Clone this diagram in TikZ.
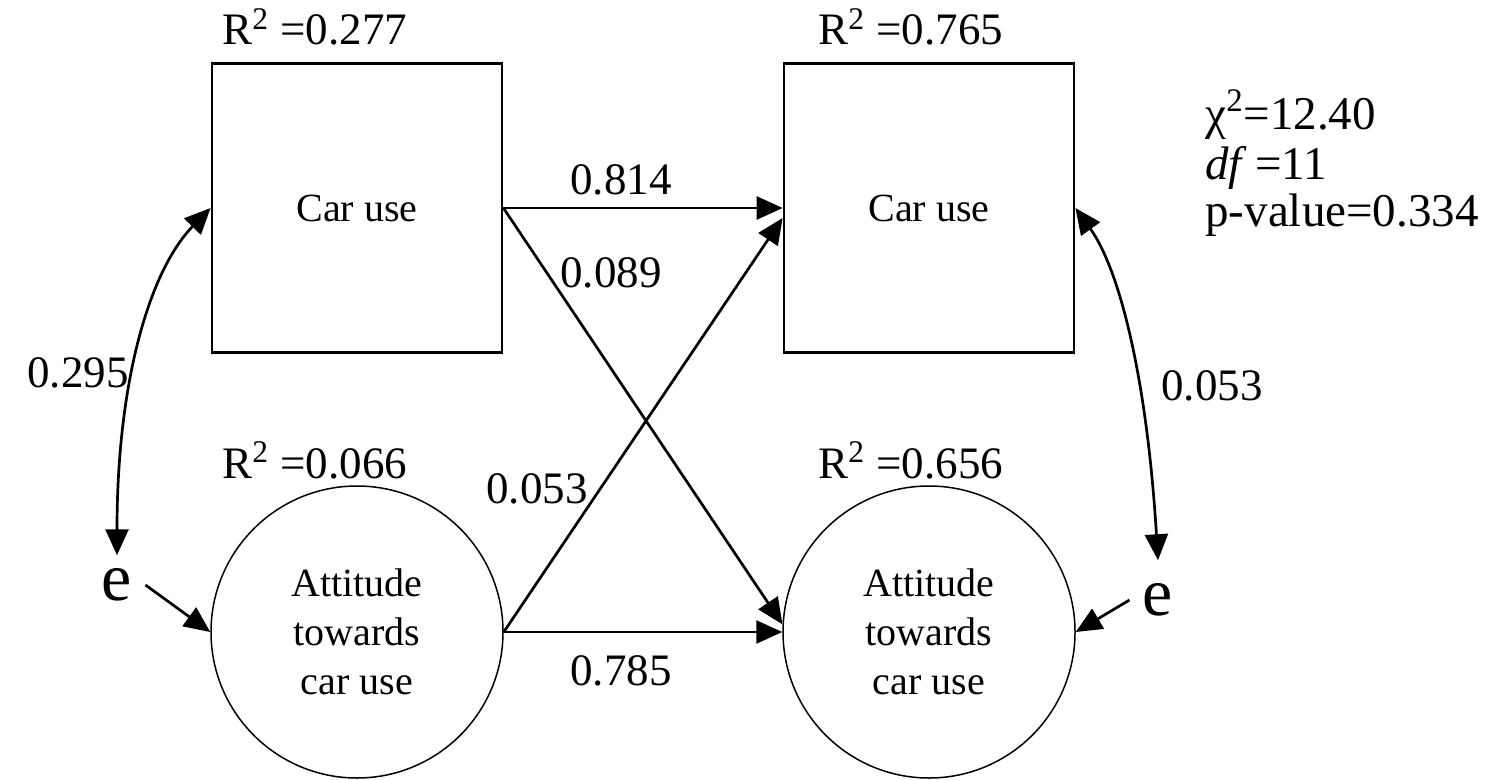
\documentclass[tikz,border=0pt]{standalone}
\usepackage{fontspec}
\setmainfont{Liberation Serif}
\newfontfamily\tnr{Liberation Serif}
\usetikzlibrary{arrows.meta}
\begin{document}
\begin{tikzpicture}[x=0.5pt,y=-0.5pt,
  box/.style={draw, line width=1.4pt, minimum width=145pt, minimum height=144.5pt, inner sep=0pt, font=\tnr\fontsize{20}{24.5}\selectfont, align=center},
  circ/.style={draw, circle, line width=0.75pt, minimum size=146pt, inner sep=0pt, font=\tnr\fontsize{20}{24.5}\selectfont, align=center},
  tip/.tip={Triangle[length=13pt,width=11.5pt]},
  arr/.style={line width=1.35pt, -tip},
  darr/.style={line width=1.35pt, tip-tip},
  lab/.style={font=\tnr\fontsize{22.5}{27}\selectfont, inner sep=0pt, anchor=base},
  rlab/.style={font=\tnr\fontsize{22.5}{27}\selectfont, inner sep=0pt, anchor=base west},
  stat/.style={font=\tnr\fontsize{23.5}{27}\selectfont, inner sep=0pt, anchor=base west},
  err/.style={font=\tnr\fontsize{34}{38}\selectfont, inner sep=6.5pt},
  ]
\useasboundingbox (0,0) rectangle (1491,780);

% main nodes
\node[box] (lb) at (357,208) {Car use};
\node[box] (rb) at (929,208) {Car use};
\node[circ] (lc) at (357,632) {Attitude\\towards\\car use};
\node[circ] (rc) at (929,632) {Attitude\\towards\\car use};
\node[err] (le) at (117,585) {e};
\node[err] (re) at (1158,600) {e};

% R squared labels
\node[rlab] (r1) at (222,45) {R\textsuperscript{2} =0.277};
\node[rlab] (r2) at (818,45) {R\textsuperscript{2} =0.765};
\node[rlab] (r3) at (222,478) {R\textsuperscript{2} =0.066};
\node[rlab] (r4) at (818,478) {R\textsuperscript{2} =0.656};

% fit statistics
\node[stat] (s1) at (1205,130) {χ\textsuperscript{2}=12.40};
\node[stat] (s2) at (1205,180) {\textit{df}\,=11};
\node[stat] (s3) at (1205,227) {p-value=0.334};

% paths
\draw[arr] (lb.east) -- (rb.west);
\draw[arr] (lb.east) -- (rc.177);
\draw[arr] (lc.east) -- ([yshift=-5pt]rb.west);
\draw[arr] (lc.east) -- (rc.west);

% correlations
\draw[darr] (lb.west) .. controls (150,270) and (117,380) .. (le.north);
\draw[darr] (rb.east) .. controls (1120,270) and (1147,380) .. ([yshift=5pt]re.north);

% error arrows
\draw[arr] (le.east) -- (lc.west);
\draw[arr] (re.west) -- (rc.east);

% path labels
\node[lab] (l1) at (621,195) {0.814};
\node[lab] (l2) at (611,287) {0.089};
\node[lab] (l3) at (537,503) {0.053};
\node[lab] (l4) at (621,685) {0.785};
\node[lab] (l5) at (78,387) {0.295};
\node[lab] (l6) at (1212,400) {0.053};
\end{tikzpicture}
\end{document}
